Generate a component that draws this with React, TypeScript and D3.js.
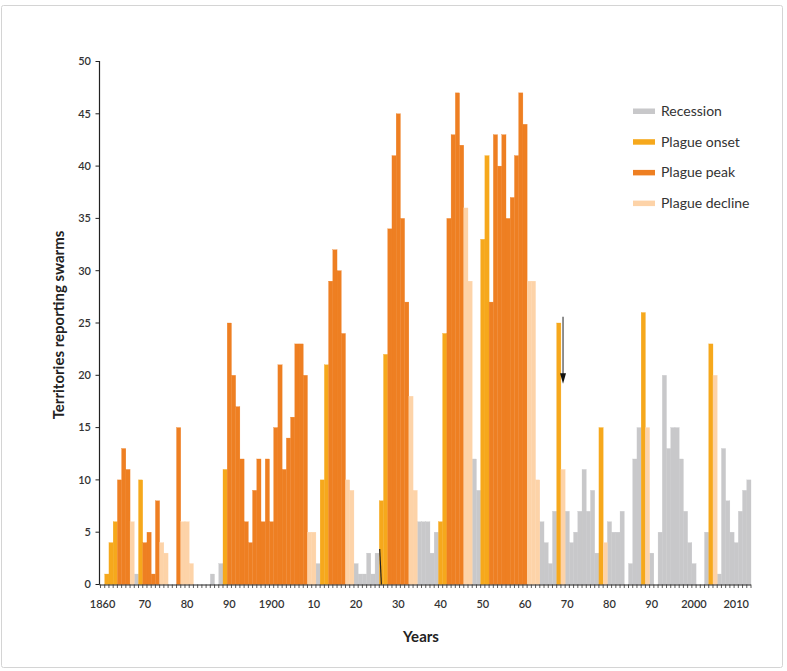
import React from "react";
import * as d3 from "d3";

// [year, territories reporting swarms]
const recession: [number, number][] = [
  [1868, 1], [1886, 1], [1888, 2], [1911, 2],
  [1920, 2], [1921, 1], [1922, 1], [1923, 3], [1924, 1], [1925, 3],
  [1935, 6], [1936, 6], [1937, 6], [1938, 3], [1939, 5],
  [1948, 12], [1949, 9],
  [1964, 6], [1965, 4], [1966, 2], [1967, 7],
  [1970, 7], [1971, 4], [1972, 5], [1973, 7], [1974, 11], [1975, 7], [1976, 9], [1977, 3],
  [1980, 6], [1981, 5], [1982, 5], [1983, 7], [1985, 2], [1986, 12], [1987, 15],
  [1990, 3], [1992, 5], [1993, 20], [1994, 13], [1995, 15], [1996, 15], [1997, 12],
  [1998, 7], [1999, 4], [2000, 2], [2003, 5],
  [2006, 1], [2007, 13], [2008, 8], [2009, 5], [2010, 4], [2011, 7], [2012, 9], [2013, 10],
];
const onset: [number, number][] = [
  [1861, 1], [1862, 4], [1863, 6], [1869, 10], [1889, 11],
  [1912, 10], [1913, 21], [1926, 8], [1927, 22], [1940, 6], [1941, 24],
  [1950, 33], [1951, 41], [1968, 25], [1978, 15], [1988, 26], [2004, 23],
];
const peak: [number, number][] = [
  [1864, 10], [1865, 13], [1866, 11], [1870, 4], [1871, 5], [1872, 1], [1873, 8], [1878, 15],
  [1890, 25], [1891, 20], [1892, 17], [1893, 12], [1894, 6], [1895, 4], [1896, 9], [1897, 12],
  [1898, 6], [1899, 12], [1900, 6], [1901, 15], [1902, 21], [1903, 11], [1904, 14], [1905, 16],
  [1906, 23], [1907, 23], [1908, 20],
  [1914, 29], [1915, 32], [1916, 30], [1917, 24],
  [1928, 34], [1929, 41], [1930, 45], [1931, 35], [1932, 27],
  [1942, 35], [1943, 43], [1944, 47], [1945, 42],
  [1952, 27], [1953, 43], [1954, 40], [1955, 43], [1956, 35], [1957, 37], [1958, 41], [1959, 47], [1960, 44],
];
const decline: [number, number][] = [
  [1867, 6], [1874, 4], [1875, 3], [1879, 6], [1880, 6], [1881, 2],
  [1909, 5], [1910, 5], [1918, 10], [1919, 9], [1933, 18], [1934, 9],
  [1946, 36], [1947, 29], [1961, 29], [1962, 29], [1963, 10],
  [1969, 11], [1979, 4], [1989, 15], [2005, 20],
];

const seriesNames = ["Recession", "Plague onset", "Plague peak", "Plague decline"];
const seriesColors = ["#c8c8ca", "#f6a81c", "#ee7f22", "#fdd3a8"];
const seriesData = [recession, onset, peak, decline];

const yTicks = [0, 5, 10, 15, 20, 25, 30, 35, 40, 45, 50];
const xLabels: [number, string][] = [
  [1860, "1860"], [1870, "70"], [1880, "80"], [1890, "90"], [1900, "1900"],
  [1910, "10"], [1920, "20"], [1930, "30"], [1940, "40"], [1950, "50"],
  [1960, "60"], [1970, "70"], [1980, "80"], [1990, "90"], [2000, "2000"], [2010, "2010"],
];
const firstYear = 1860;
const lastYear = 2013;

export default function App() {
  const x = d3.scaleLinear().domain([firstYear, lastYear + 1]).range([100.5, 751]);
  const y = d3.scaleLinear().domain([0, 50]).range([584.5, 61.5]);
  const font = "Lato, 'Open Sans', sans-serif";
  const years = d3.range(firstYear, lastYear + 2);
  const axisX0 = 99.5;

  return (
    <svg width={787} height={671} style={{ position: "absolute", left: 0, top: 0 }} fontFamily={font}>
      <rect x={0} y={0} width={787} height={671} fill="#fff" />
      <rect x={1.5} y={5.5} width={781} height={662} fill="none" stroke="#d4d4d4" strokeWidth={1} rx={2} />

      {seriesData.map((arr, si) =>
        arr.map(([yr, v]) => (
          <rect
            key={si + "-" + yr}
            x={x(yr)}
            y={y(v)}
            width={x(yr + 1) - x(yr)}
            height={y(0) - y(v)}
            fill={seriesColors[si]}
            stroke={seriesColors[si]}
            strokeWidth={0.3}
          />
        ))
      )}

      {/* small dark mark near 1926 */}
      <line x1={x(1926.1)} y1={y(3.4)} x2={x(1926.5)} y2={y(0)} stroke="#222" strokeWidth={1.2} />

      {/* arrow at 1969 */}
      <line x1={x(1969.5)} y1={y(25.6)} x2={x(1969.5)} y2={y(19.8)} stroke="#555" strokeWidth={1.3} />
      <path
        d={`M${x(1969.5) - 3},${y(20.2)} L${x(1969.5) + 3},${y(20.2)} L${x(1969.5)},${y(19.2)} Z`}
        fill="#111"
      />

      {/* y axis */}
      <line x1={axisX0} y1={y(50) - 0.5} x2={axisX0} y2={y(0)} stroke="#222" strokeWidth={1.2} />
      {yTicks.map((t) => (
        <g key={"yt" + t}>
          <line x1={axisX0 - 4} x2={axisX0} y1={y(t)} y2={y(t)} stroke="#222" strokeWidth={1} />
          <text x={91} y={y(t)} dy="0.35em" textAnchor="end" fontSize={11} fontWeight={600} fill="#333">
            {t}
          </text>
        </g>
      ))}

      {/* x axis */}
      <line x1={axisX0} x2={x(lastYear + 1)} y1={y(0) + 0.5} y2={y(0) + 0.5} stroke="#222" strokeWidth={1.2} />
      {years.map((yr) => (
        <line key={"xt" + yr} x1={x(yr)} x2={x(yr)} y1={y(0)} y2={y(0) + 3.5} stroke="#333" strokeWidth={0.8} />
      ))}
      {xLabels.map(([yr, lab]) => (
        <text
          key={"xl" + yr}
          x={x(yr + 0.5)}
          y={608}
          textAnchor="middle"
          fontSize={11}
          fontWeight={600}
          fill="#333"
        >
          {lab}
        </text>
      ))}

      <text x={421} y={642} textAnchor="middle" fontSize={15} fontWeight={700} fill="#222">
        Years
      </text>
      <text
        transform={`translate(64,325) rotate(-90)`}
        textAnchor="middle"
        fontSize={15}
        fontWeight={700}
        fill="#222"
      >
        Territories reporting swarms
      </text>

      {/* legend */}
      {seriesNames.map((name, i) => {
        const cy = 111 + i * 30.7;
        return (
          <g key={"lg" + i}>
            <rect x={633} y={cy - 2.5} width={22} height={5.5} fill={seriesColors[i]} />
            <text x={661} y={cy} dy="0.35em" fontSize={14} fill="#333">
              {name}
            </text>
          </g>
        );
      })}
    </svg>
  );
}
